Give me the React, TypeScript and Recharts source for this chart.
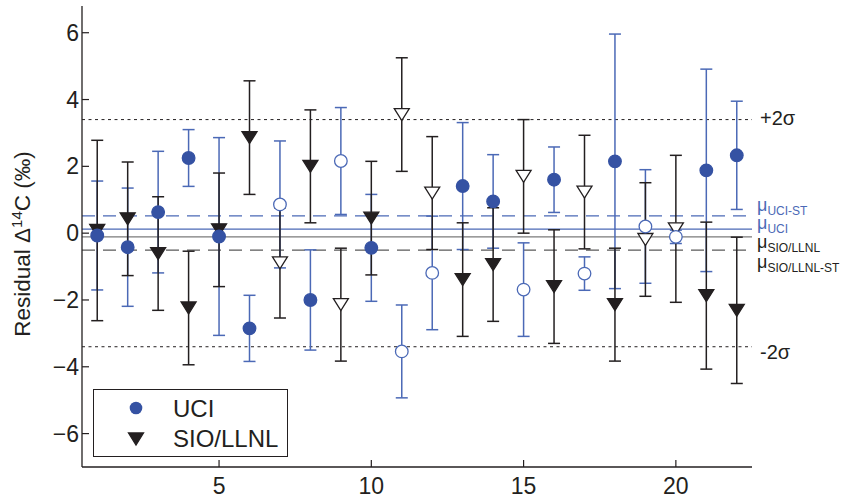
import React from "react";
import { ScatterChart, Scatter, ErrorBar, XAxis, YAxis, ReferenceLine, Legend } from "recharts";

const FONT = "'Liberation Sans', Arial, Helvetica, sans-serif";
const BLUE = "#3552a3";
const BLUE_LINE = "#4b69b6";
const BLACK = "#231f20";
const GRAY = "#7a7a7a";

// run number on the x axis
const runs = [1, 2, 3, 4, 5, 6, 7, 8, 9, 10, 11, 12, 13, 14, 15, 16, 17, 18, 19, 20, 21, 22];
const uciValues = [-0.07, -0.42, 0.63, 2.25, -0.1, -2.85, 0.86, -2.0, 2.16, -0.44, -3.54, -1.19, 1.41, 0.95, -1.69, 1.6, -1.21, 2.15, 0.2, -0.11, 1.88, 2.33];
const uciErrors = [1.63, 1.77, 1.82, 0.85, 2.96, 0.99, 1.9, 1.5, 1.6, 1.6, 1.39, 1.7, 1.9, 1.4, 1.4, 0.98, 0.5, 3.81, 1.7, 0.2, 3.03, 1.62];
const sioValues = [0.08, 0.43, -0.61, -2.24, 0.1, 2.86, -0.89, 2.0, -2.14, 0.45, 3.55, 1.2, -1.39, -0.94, 1.7, -1.6, 1.23, -2.14, -0.19, 0.13, -1.87, -2.31];
const sioErrors = [2.7, 1.7, 1.7, 1.7, 1.7, 1.7, 1.65, 1.69, 1.69, 1.7, 1.7, 1.69, 1.7, 1.7, 1.7, 1.7, 1.7, 1.69, 1.7, 2.2, 2.2, 2.19];
// runs drawn with open symbols
const openRuns = [7, 9, 11, 12, 15, 17, 19, 20];

const xTicks = [5, 10, 15, 20];
const yTicks = [-6, -4, -2, 0, 2, 4, 6];

const twoSigma = 3.4;
const muUciSt = 0.52;
const muUci = 0.12;
const muSio = -0.11;
const muSioSt = -0.51;

const uciData = runs.map((run, i) => ({ run, value: uciValues[i], err: uciErrors[i], open: openRuns.includes(run) }));
const sioData = runs.map((run, i) => ({ run, value: sioValues[i], err: sioErrors[i], open: openRuns.includes(run) }));

function triPath(cx: number, cy: number) {
  const w = 7.5;
  const h = 6;
  return `M${cx - w},${cy - h}L${cx + w},${cy - h}L${cx},${cy + h}Z`;
}

const UciDot = (p: any) => (
  <circle
    cx={p.cx}
    cy={p.cy}
    r={6.3}
    fill={p.payload.open ? "#fff" : BLUE}
    stroke={p.payload.open ? BLUE_LINE : BLUE}
    strokeWidth={1.3}
  />
);

const SioTri = (p: any) => (
  <path d={triPath(p.cx, p.cy)} fill={p.payload.open ? "#fff" : BLACK} stroke={BLACK} strokeWidth={1.3} />
);

const YTick = (p: any) => (
  <g>
    <line x1={p.x + 3} x2={p.x + 10} y1={p.y} y2={p.y} stroke={BLACK} strokeWidth={1.2} />
    <text x={p.x} y={p.y} dy={8} textAnchor="end" fontSize={23} fontFamily={FONT} fill={BLACK}>
      {p.payload.value < 0 ? "\u2212" + Math.abs(p.payload.value) : p.payload.value}
    </text>
  </g>
);

const XTick = (p: any) => (
  <g>
    <line x1={p.x} x2={p.x} y1={p.y - 10} y2={p.y - 17} stroke={BLACK} strokeWidth={1.2} />
    <text x={p.x} y={p.y} dy={17} textAnchor="middle" fontSize={23} fontFamily={FONT} fill={BLACK}>
      {p.payload.value}
    </text>
  </g>
);

const MuLabel = ({ viewBox, sub, color, dy }: any) => {
  if (!viewBox) return null;
  return (
    <text x={viewBox.x + viewBox.width + 5} y={viewBox.y + dy} fill={color} fontFamily={FONT}>
      <tspan fontSize={18}>μ</tspan>
      <tspan fontSize={12} dy={4}>{sub}</tspan>
    </text>
  );
};

const SigmaLabel = ({ viewBox, text, dy }: any) => {
  if (!viewBox) return null;
  return (
    <text x={viewBox.x + viewBox.width + 8} y={viewBox.y + dy} fill={BLACK} fontFamily={FONT} fontSize={20}>
      {text}
    </text>
  );
};

const YLabel = () => (
  <text transform="translate(30,244) rotate(-90)" textAnchor="middle" fontSize={22.5} fontFamily={FONT} fill={BLACK}>
    Residual Δ<tspan fontSize={15} dy={-8}>14</tspan>
    <tspan dy={8}>C (‰)</tspan>
  </text>
);

const LegendBox = () => (
  <svg width={195} height={68} style={{ display: "block" }}>
    <rect x={0.5} y={0.5} width={194} height={67} fill="#fff" stroke={BLACK} strokeWidth={1} />
    <circle cx={43} cy={19} r={6.3} fill={BLUE} />
    <path d={triPath(43, 50)} fill={BLACK} stroke={BLACK} strokeWidth={1.3} />
    <text x={80} y={28} fontSize={24} fontFamily={FONT} fill={BLACK}>UCI</text>
    <text x={80} y={58} fontSize={24} fontFamily={FONT} fill={BLACK}>SIO/LLNL</text>
  </svg>
);

export default function App() {
  return (
    <div style={{ position: "absolute", left: 0, top: 0, width: 842, height: 499, background: "#fff" }}>
      <ScatterChart width={842} height={499} margin={{ top: 6, right: 90, bottom: 2, left: 22 }}>
        <XAxis
          type="number"
          dataKey="run"
          domain={[0.5, 22.5]}
          allowDataOverflow
          ticks={xTicks}
          tickSize={0}
          tickMargin={10}
          height={30}
          tick={<XTick />}
          tickLine={false}
          axisLine={{ stroke: BLACK, strokeWidth: 1.3 }}
        />
        <YAxis
          type="number"
          dataKey="value"
          domain={[-7, 6.8]}
          allowDataOverflow
          ticks={yTicks}
          tickSize={0}
          tickMargin={3}
          width={60}
          tick={<YTick />}
          tickLine={false}
          axisLine={{ stroke: BLACK, strokeWidth: 1.3 }}
          label={<YLabel />}
        />
        <ReferenceLine y={twoSigma} stroke={BLACK} strokeWidth={1} strokeDasharray="3 3.5" label={<SigmaLabel text="+2σ" dy={5} />} />
        <ReferenceLine y={-twoSigma} stroke={BLACK} strokeWidth={1} strokeDasharray="3 3.5" label={<SigmaLabel text="-2σ" dy={12} />} />
        <ReferenceLine y={muUciSt} stroke={BLUE_LINE} strokeWidth={1.2} strokeDasharray="13 8" label={<MuLabel sub="UCI-ST" color={BLUE_LINE} dy={-5} />} />
        <ReferenceLine y={muUci} stroke={BLUE_LINE} strokeWidth={1.3} label={<MuLabel sub="UCI" color={BLUE_LINE} dy={0} />} />
        <ReferenceLine y={muSio} stroke={GRAY} strokeWidth={1.3} label={<MuLabel sub="SIO/LLNL" color={BLACK} dy={11} />} />
        <ReferenceLine y={muSioSt} stroke="#5a5a5a" strokeWidth={1.2} strokeDasharray="13 8" label={<MuLabel sub="SIO/LLNL-ST" color={BLACK} dy={18} />} />
        <Scatter name="UCI-err" data={uciData} isAnimationActive={false} shape={() => <g />} legendType="none">
          <ErrorBar dataKey="err" direction="y" width={6} stroke={BLUE_LINE} strokeWidth={1.5} isAnimationActive={false} />
        </Scatter>
        <Scatter name="SIO/LLNL" data={sioData} isAnimationActive={false} shape={SioTri}>
          <ErrorBar dataKey="err" direction="y" width={6} stroke={BLACK} strokeWidth={1.5} isAnimationActive={false} />
        </Scatter>
        <Scatter name="UCI" data={uciData} isAnimationActive={false} shape={UciDot} />
        <Legend
          layout="vertical"
          align="center"
          verticalAlign="middle"
          wrapperStyle={{ left: 93, top: 389, width: 195, height: 68 }}
          content={() => <LegendBox />}
        />
      </ScatterChart>
    </div>
  );
}
